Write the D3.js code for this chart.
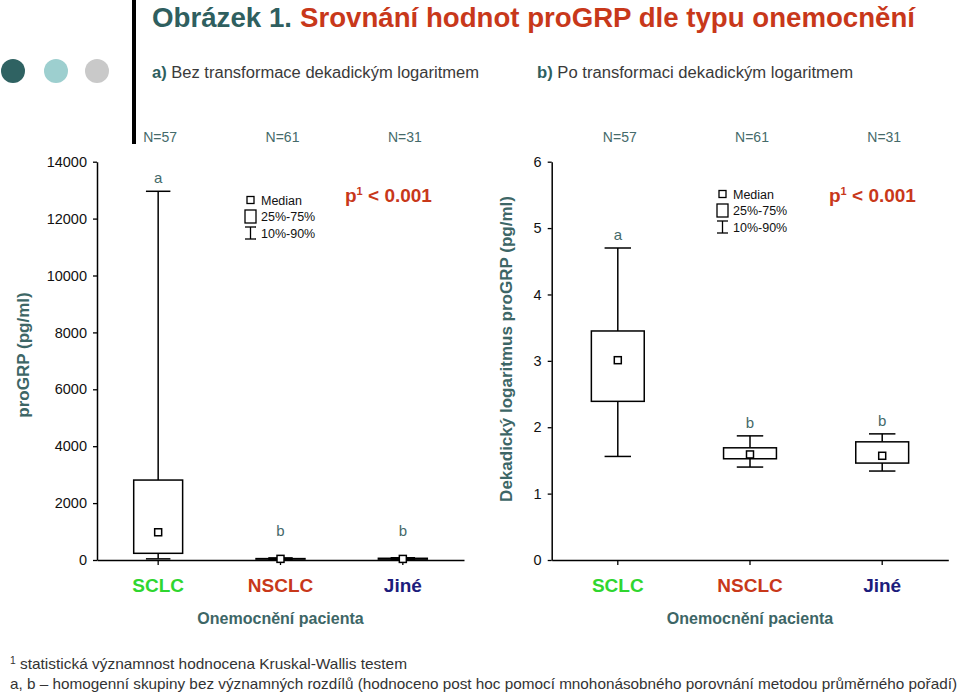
<!DOCTYPE html>
<html><head><meta charset="utf-8">
<script src="https://cdn.jsdelivr.net/npm/d3@7"></script>
<style>body{margin:0;background:#fff}svg{display:block}text{font-family:"Liberation Sans",Arial,sans-serif}</style>
</head><body>
<svg id="c" width="960" height="693"></svg>
<script>
const categories = ["SCLC", "NSCLC", "Jiné"];
const categoryColors = ["#2fd62f", "#c8381a", "#1c1c7c"];
const nLabels = ["N=57", "N=61", "N=31"];
const groupLetters = ["a", "b", "b"];
// a) raw values (pg/ml)
const rawP10 = [40, 25, 22];
const rawQ1 = [235, 33, 30];
const rawMedian = [975, 40, 38];
const rawQ3 = [2810, 49, 60];
const rawP90 = [12960, 74, 79];
// b) log10 values
const logP10 = [1.56, 1.40, 1.34];
const logQ1 = [2.39, 1.525, 1.46];
const logMedian = [3.01, 1.59, 1.57];
const logQ3 = [3.45, 1.69, 1.78];
const logP90 = [4.70, 1.87, 1.90];
const leftTicks = [0, 2000, 4000, 6000, 8000, 10000, 12000, 14000];
const rightTicks = [0, 1, 2, 3, 4, 5, 6];

const svg = d3.select("#c");
const teal = "#2f5f5f";
const tealText = "#456a6a";

// header decorations
svg.append("rect").attr("x", 132).attr("y", 0).attr("width", 4).attr("height", 144).attr("fill", "#000");
[["#2f6262", 13], ["#9dcfcf", 56], ["#c9c9c9", 97]].forEach(([c, x]) =>
  svg.append("circle").attr("cx", x).attr("cy", 71).attr("r", 12).attr("fill", c));
svg.append("text").attr("x", 152).attr("y", 27).attr("font-size", 27).attr("font-weight", "bold")
  .attr("fill", teal).attr("textLength", 140).attr("lengthAdjust", "spacingAndGlyphs").text("Obrázek 1.");
svg.append("text").attr("x", 300).attr("y", 27).attr("font-size", 27).attr("font-weight", "bold")
  .attr("fill", "#c8381a").attr("textLength", 615).attr("lengthAdjust", "spacingAndGlyphs")
  .text("Srovnání hodnot proGRP dle typu onemocnění");

function subtitle(x, w, lab, rest) {
  const t = svg.append("text").attr("x", x).attr("y", 78).attr("font-size", 16).attr("fill", "#3a3a3a")
    .attr("textLength", w).attr("lengthAdjust", "spacingAndGlyphs");
  t.append("tspan").attr("font-weight", "bold").attr("fill", teal).text(lab);
  t.append("tspan").text(rest);
}
subtitle(152, 327, "a)", " Bez transformace dekadickým logaritmem");
subtitle(537, 316, "b)", " Po transformaci dekadickým logaritmem");

// footer
const f1 = svg.append("text").attr("x", 10).attr("y", 669).attr("font-size", 15).attr("fill", "#333")
  .attr("textLength", 397).attr("lengthAdjust", "spacingAndGlyphs");
f1.append("tspan").attr("font-size", 10).attr("dy", -5).text("1");
f1.append("tspan").attr("dy", 5).text(" statistická významnost hodnocena Kruskal-Wallis testem");
svg.append("text").attr("x", 10).attr("y", 689).attr("font-size", 15).attr("fill", "#333")
  .attr("textLength", 947).attr("lengthAdjust", "spacingAndGlyphs")
  .text("a, b – homogenní skupiny bez významných rozdílů (hodnoceno post hoc pomocí mnohonásobného porovnání metodou průměrného pořadí)");

function panel(opt) {
  const g = svg.append("g");
  const x = d3.scaleBand().domain(categories).range([opt.x0, opt.x1]);
  const y = d3.scaleLinear().domain(opt.domain).range([560, 161.7]);
  const bw = x.bandwidth();
  const cx = c => x(c) + bw / 2;

  // y axis
  const ya = g.append("g").attr("transform", `translate(${opt.x0},0)`)
    .call(d3.axisLeft(y).tickValues(opt.ticks).tickFormat(d3.format("d")).tickSize(4).tickPadding(6).tickSizeOuter(0));
  ya.select(".domain").attr("stroke-width", 1.5);
  ya.selectAll(".tick line").attr("stroke-width", 1.3);
  ya.selectAll("text").attr("font-size", 14.5).attr("fill", "#111").attr("font-family", "Liberation Sans, Arial");
  // x axis
  const xa = g.append("g").attr("transform", "translate(0,560)")
    .call(d3.axisBottom(x).tickSize(5).tickSizeOuter(0).tickFormat(""));
  xa.select(".domain").attr("stroke-width", 1.5);
  xa.selectAll(".tick line").attr("stroke-width", 1.3);

  // boxes
  categories.forEach((c, i) => {
    const m = cx(c), hw = bw * 0.2, cw = bw * 0.1;
    const line = (x1, y1, x2, y2) => g.append("line").attr("x1", x1).attr("y1", y1).attr("x2", x2).attr("y2", y2)
      .attr("stroke", "#000").attr("stroke-width", 1.5);
    line(m, y(opt.p90[i]), m, y(opt.q3[i]));
    line(m, y(opt.q1[i]), m, y(opt.p10[i]));
    line(m - cw, y(opt.p90[i]), m + cw, y(opt.p90[i]));
    line(m - cw, y(opt.p10[i]), m + cw, y(opt.p10[i]));
    g.append("rect").attr("x", m - hw).attr("y", y(opt.q3[i])).attr("width", 2 * hw)
      .attr("height", Math.max(0.5, y(opt.q1[i]) - y(opt.q3[i])))
      .attr("fill", "none").attr("stroke", "#000").attr("stroke-width", 1.5);
    g.append("rect").attr("x", m - 3.5).attr("y", y(opt.med[i]) - 3.5).attr("width", 7).attr("height", 7)
      .attr("fill", "#fff").attr("stroke", "#000").attr("stroke-width", 1.5);
    g.append("text").attr("x", m).attr("y", Math.min(y(opt.p90[i]) - 8, 536)).attr("text-anchor", "middle")
      .attr("font-size", 15).attr("fill", tealText).text(groupLetters[i]);
    g.append("text").attr("x", m + opt.nShift).attr("y", 142).attr("text-anchor", "middle")
      .attr("font-size", 14).attr("fill", tealText).text(nLabels[i]);
    g.append("text").attr("x", m).attr("y", 592).attr("text-anchor", "middle")
      .attr("font-size", 19).attr("font-weight", "bold").attr("fill", categoryColors[i]).text(c);
  });

  g.append("text").attr("x", (opt.x0 + opt.x1) / 2 + opt.titleShift).attr("y", 624).attr("text-anchor", "middle")
    .attr("font-size", 16).attr("font-weight", "bold").attr("fill", "#3d6666").text("Onemocnění pacienta");
  g.append("text").attr("transform", `translate(${opt.yTitleX},${opt.yTitleY}) rotate(-90)`)
    .attr("text-anchor", "middle").attr("font-size", 17).attr("font-weight", "bold").attr("fill", "#3d6666")
    .text(opt.yTitle);

  // legend
  const lx = opt.legX, ly = opt.legY;
  g.append("rect").attr("x", lx + 2).attr("y", ly - 3.5).attr("width", 7).attr("height", 7)
    .attr("fill", "#fff").attr("stroke", "#000").attr("stroke-width", 1.3);
  g.append("rect").attr("x", lx).attr("y", ly + 10).attr("width", 11).attr("height", 13)
    .attr("fill", "none").attr("stroke", "#000").attr("stroke-width", 1.3);
  [ly + 27, ly + 39].forEach(a =>
    g.append("line").attr("x1", lx).attr("x2", lx + 11).attr("y1", a).attr("y2", a).attr("stroke", "#000").attr("stroke-width", 1.3));
  g.append("line").attr("x1", lx + 5.5).attr("x2", lx + 5.5).attr("y1", ly + 27).attr("y2", ly + 39).attr("stroke", "#000").attr("stroke-width", 1.3);
  [["Median", ly + 5], ["25%-75%", ly + 21], ["10%-90%", ly + 38]].forEach(([t, yy]) =>
    g.append("text").attr("x", lx + 16).attr("y", yy).attr("font-size", 12.5).attr("fill", "#111").text(t));

  const p = g.append("text").attr("x", opt.pX).attr("y", 202).attr("font-size", 19).attr("font-weight", "bold").attr("fill", "#c8381a");
  p.append("tspan").text("p");
  p.append("tspan").attr("font-size", 11).attr("dy", -7).text("1");
  p.append("tspan").attr("dy", 7).text(" < 0.001");
}

panel({x0: 97, x1: 464, domain: [0, 14000], ticks: leftTicks,
  p10: rawP10, q1: rawQ1, med: rawMedian, q3: rawQ3, p90: rawP90,
  nShift: 2, titleShift: 0, yTitleX: 29, yTitleY: 355, yTitle: "proGRP (pg/ml)",
  legX: 245, legY: 200, pX: 345});
panel({x0: 551.7, x1: 948.3, domain: [0, 6], ticks: rightTicks,
  p10: logP10, q1: logQ1, med: logMedian, q3: logQ3, p90: logP90,
  nShift: 2, titleShift: 0, yTitleX: 512, yTitleY: 349, yTitle: "Dekadický logaritmus proGRP (pg/ml)",
  legX: 717, legY: 194, pX: 829});
</script>
</body></html>
